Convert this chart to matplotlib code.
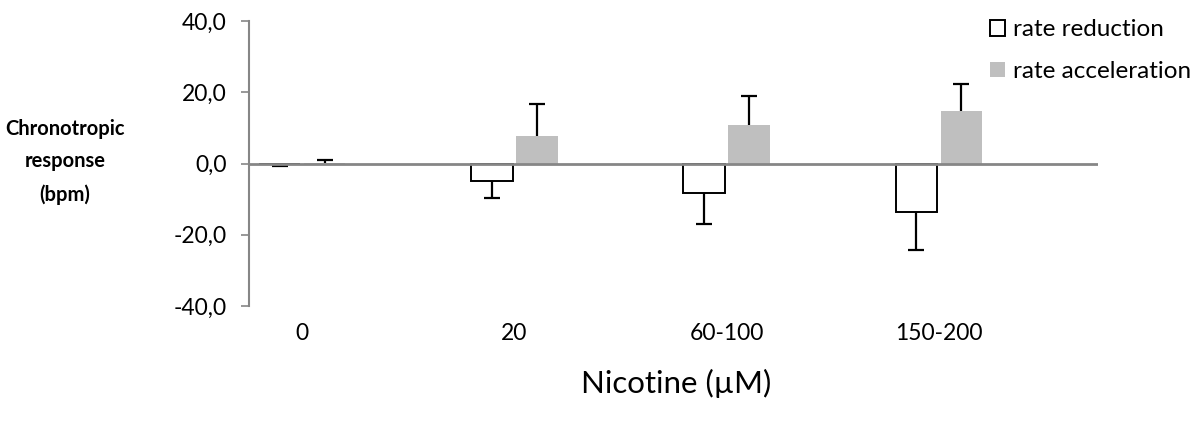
import matplotlib
matplotlib.use("Agg")
import matplotlib.pyplot as plt
import numpy as np
from matplotlib.patches import Patch

categories = ["0", "20", "60-100", "150-200"]
reduction = [-0.2, -4.9, -8.4, -13.5]
reduction_err = [0.5, 4.7, 8.6, 10.9]
acceleration = [0.1, 7.8, 10.7, 14.8]
acceleration_err = [1.0, 8.9, 8.3, 7.5]
yticks = [-40, -20, 0, 20, 40]
ytick_labels = ["-40,0", "-20,0", "0,0", "20,0", "40,0"]

plt.rcParams['font.family'] = ['Lato', 'DejaVu Sans']

fig = plt.figure(figsize=(12.04, 4.30), dpi=100)
ax = fig.add_axes([249/1204, 1-306/430, (1098-249)/1204, (306-21)/430])

x = np.arange(len(categories))
w = 0.195
off = 0.106
grey = "#868686"

ax.bar(x - off, reduction, w, color="white", edgecolor="black", linewidth=1.4, zorder=2)
ax.bar(x + off, acceleration, w, color="#BFBFBF", edgecolor="none", zorder=2)

# one-sided error bars (away from zero)
eb_r = ax.errorbar(x - off, reduction, yerr=[reduction_err, np.zeros(len(x))], fmt="none",
                   ecolor="black", elinewidth=1.6, capsize=6, capthick=1.6, zorder=3)
eb_a = ax.errorbar(x + off, acceleration, yerr=[np.zeros(len(x)), acceleration_err], fmt="none",
                   ecolor="black", elinewidth=1.6, capsize=6, capthick=1.6, zorder=3)
eb_r[1][1].set_visible(False)
eb_a[1][0].set_visible(False)

ax.axhline(0, color=grey, linewidth=2.0, zorder=4)

ax.set_xlim(-0.25, 3.75)
ax.set_ylim(-40, 40)
ax.set_yticks(yticks)
ax.set_yticklabels(ytick_labels, fontsize=16.5, color="black")
ax.tick_params(axis="y", direction="out", length=6, width=1.2, color=grey, pad=10)

ax.set_xticks(x)
ax.set_xticklabels(categories, fontsize=16.5, color="black")
ax.tick_params(axis="x", length=0, pad=12)

for s in ["top", "right", "bottom"]:
    ax.spines[s].set_visible(False)
ax.spines["left"].set_color(grey)
ax.spines["left"].set_linewidth(1.5)

fig.text(65/1204, 1-162/430, "Chronotropic\nresponse\n(bpm)", ha="center", va="center",
         fontsize=14.5, fontweight="bold", linespacing=1.8)
fig.text(676/1204, 1-383/430, "Nicotine (µM)", ha="center", va="center", fontsize=22.5)

handles = [Patch(facecolor="white", edgecolor="black", linewidth=1.4),
           Patch(facecolor="#BFBFBF", edgecolor="none")]
fig.legend(handles, ["rate reduction", "rate acceleration"], loc="upper left",
           bbox_to_anchor=(983/1204, 1-12/430), frameon=False, fontsize=17.5,
           handlelength=0.62, handleheight=0.62, handletextpad=0.3, labelspacing=0.85,
           borderaxespad=0, borderpad=0.3)

fig.savefig("out.png", dpi=100)
